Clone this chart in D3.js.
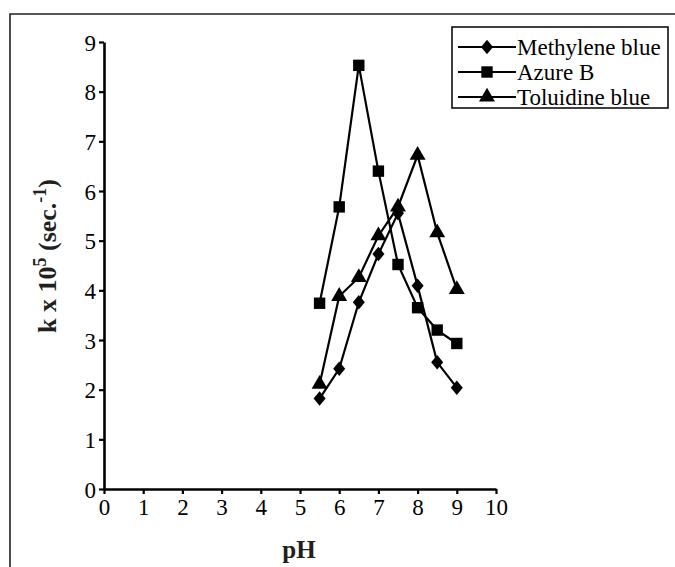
<!DOCTYPE html>
<html><head><meta charset="utf-8">
<script src="https://cdn.jsdelivr.net/npm/d3@7/dist/d3.min.js"></script>
<style>body{margin:0;background:#fff}svg{display:block}</style>
</head><body>
<script>
const pH = [5.5, 6, 6.5, 7, 7.5, 8, 8.5, 9];
const methyleneBlue = [1.82, 2.42, 3.76, 4.73, 5.55, 4.09, 2.55, 2.04];
const azureB = [3.74, 5.68, 8.53, 6.40, 4.52, 3.65, 3.20, 2.93];
const toluidineBlue = [2.11, 3.88, 4.26, 5.10, 5.68, 6.72, 5.16, 4.02];
const seriesNames = ["Methylene blue", "Azure B", "Toluidine blue"];
const xTicks = [0,1,2,3,4,5,6,7,8,9,10];
const yTicks = [0,1,2,3,4,5,6,7,8,9];

const FONT = "'Liberation Serif', 'Times New Roman', Times, serif";
const W = 675, H = 567;
const svg = d3.select("body").append("svg").attr("width", W).attr("height", H);

// figure frame
svg.append("path").attr("d", `M10,${H+5}V14H${W+5}`).attr("fill","none").attr("stroke","#231f20").attr("stroke-width",1.6);

const x = d3.scaleLinear().domain([0,10]).range([104,496]);
const y = d3.scaleLinear().domain([0,9]).range([489,42]);

const ax = svg.append("g").attr("transform","translate(0,489)")
  .call(d3.axisBottom(x).tickValues(xTicks).tickSize(5).tickPadding(4).tickSizeOuter(0));
const ay = svg.append("g").attr("transform","translate(104,0)")
  .call(d3.axisLeft(y).tickValues(yTicks).tickSize(5).tickPadding(3).tickSizeOuter(0));
[ax, ay].forEach(g => {
  g.attr("font-family", null).attr("font-size", null);
  g.select(".domain").attr("stroke","#000").attr("stroke-width",2.6);
  g.selectAll(".tick line").attr("stroke","#000").attr("stroke-width",2.2);
  g.selectAll(".tick text").attr("fill","#000").style("font-family",FONT).style("font-size","23px");
});
ax.selectAll(".tick text").attr("dy","0.72em");
ay.selectAll(".tick text").attr("dy","0.35em");

const data = [methyleneBlue, azureB, toluidineBlue];
const symbols = [
  d3.symbol().type(d3.symbolDiamond).size(95),
  d3.symbol().type(d3.symbolSquare).size(130),
  d3.symbol().type(d3.symbolTriangle).size(110)
];
const line = d3.line().x((d,i)=>x(pH[i])).y(d=>y(d));

data.forEach((vals, s) => {
  svg.append("path").datum(vals).attr("d", line).attr("fill","none")
    .attr("stroke","#000").attr("stroke-width",2.2);
  svg.append("g").selectAll("path").data(vals).join("path")
    .attr("d", symbols[s]).attr("fill","#000")
    .attr("transform",(d,i)=>`translate(${x(pH[i])},${y(d)})${s===0?" scale(1.15,0.8)":""}`);
});

// legend
const lg = svg.append("g");
lg.append("rect").attr("x",452).attr("y",27).attr("width",216).attr("height",81)
  .attr("fill","#fff").attr("stroke","#000").attr("stroke-width",1.5);
seriesNames.forEach((n, s) => {
  const yy = 47 + s*25;
  lg.append("line").attr("x1",458).attr("x2",516).attr("y1",yy).attr("y2",yy).attr("stroke","#000").attr("stroke-width",2);
  lg.append("path").attr("d", symbols[s]).attr("fill","#000")
    .attr("transform",`translate(487,${yy})${s===0?" scale(1.15,0.8)":""}`);
  lg.append("text").attr("x",517).attr("y",yy).attr("dy","0.33em")
    .style("font-family",FONT).style("font-size","23px").attr("fill","#000").text(n);
});

// axis titles
svg.append("text").attr("x",299).attr("y",558).attr("text-anchor","middle")
  .style("font-family",FONT).style("font-size","25px").style("font-weight","bold").attr("fill","#231f20").text("pH");
const yt = svg.append("text").attr("transform","translate(56,256) rotate(-90)").attr("text-anchor","middle")
  .style("font-family",FONT).style("font-size","26px").style("font-weight","bold").attr("fill","#231f20");
yt.append("tspan").text("k x 10");
yt.append("tspan").attr("dy","-10").style("font-size","18px").text("5");
yt.append("tspan").attr("dy","10").text(" (sec.");
yt.append("tspan").attr("dy","-10").style("font-size","18px").text("-1");
yt.append("tspan").attr("dy","10").text(")");
</script>
</body></html>
